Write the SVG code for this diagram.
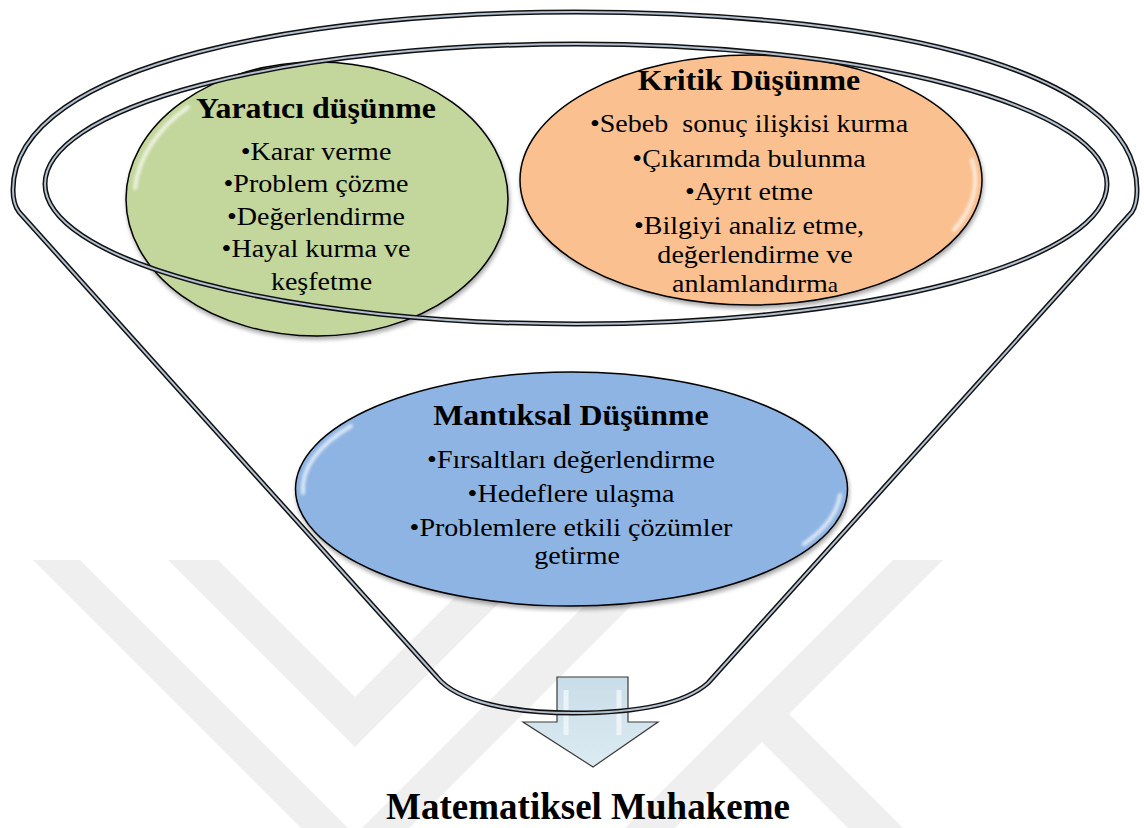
<svg xmlns="http://www.w3.org/2000/svg" width="1144" height="828" viewBox="0 0 1144 828">
  <style>
    .wm { fill: #efefef; }
    .title { font-family: "Liberation Serif", "Times New Roman", serif; font-weight: bold; font-size: 29px; fill: #000; text-anchor: middle; }
    .item { font-family: "Liberation Serif", "Times New Roman", serif; font-size: 25.5px; fill: #000; text-anchor: middle; }
    .big { font-family: "Liberation Serif", "Times New Roman", serif; font-weight: bold; font-size: 37px; fill: #000; text-anchor: middle; }
    .ell { stroke: #000; stroke-width: 1.5; filter: url(#shadow); }
    .gloss { fill: none; stroke: #ffffff; stroke-width: 4; stroke-linecap: round; opacity: 0.7; filter: url(#soft); }
    .lineOut { fill: none; stroke: #111; stroke-width: 5; stroke-linejoin: round; }
    .lineIn { fill: none; stroke: #b3c0d0; stroke-width: 2; stroke-linejoin: round; }
  </style>
  <defs>
    <filter id="shadow" x="-10%" y="-10%" width="120%" height="130%">
      <feGaussianBlur in="SourceAlpha" stdDeviation="2"/>
      <feOffset dx="1" dy="3" result="b"/>
      <feComponentTransfer><feFuncA type="linear" slope="0.35"/></feComponentTransfer>
      <feMerge><feMergeNode/><feMergeNode in="SourceGraphic"/></feMerge>
    </filter>
    <filter id="soft" x="-20%" y="-20%" width="140%" height="140%">
      <feGaussianBlur stdDeviation="1.6"/>
    </filter>
    <linearGradient id="arrowFill" x1="0" y1="0" x2="0" y2="1">
      <stop offset="0" stop-color="#c9dde8"/>
      <stop offset="1" stop-color="#dcebf2"/>
    </linearGradient>
  </defs>

  <rect width="1144" height="828" fill="#ffffff"/>

  <g id="watermark">
    <polygon class="wm" points="168,560 218,560 355,697 492,560 542,560 355,747"/>
    <polygon class="wm" points="33,560 80,560 355,835 630,560 677,560 355,882"/>
    <polygon class="wm" points="893,560 943,560 789,714 903,828 848,828 762,742 675,828 625,828"/>
  </g>

  <g id="node-arrow">
    <path d="M557,677 H628 V722 H658 L593,767 L523,722 H557 Z" fill="url(#arrowFill)" stroke="#3a3a3a" stroke-width="1.2"/>
    <path d="M566,690 V735" stroke="#f2f8fb" stroke-width="5" opacity="0.8"/>
    <path d="M619,690 V735" stroke="#f2f8fb" stroke-width="5" opacity="0.8"/>
  </g>

  <g id="node-yaratici">
    <ellipse class="ell" cx="317" cy="199" rx="191" ry="137" fill="#c3d69b"/>
    <path class="gloss" d="M188,107 A183,130 0 0 0 135,188"/>
    <g transform="translate(316,0) scale(1.1,1)">
      <text class="title" x="0" y="118">Yaratıcı düşünme</text>
      <text class="item" x="0" y="160">•Karar verme</text>
      <text class="item" x="0" y="192.5">•Problem çözme</text>
      <text class="item" x="0" y="225">•Değerlendirme</text>
      <text class="item" x="0" y="257.5">•Hayal kurma ve</text>
      <text class="item" x="5" y="290">keşfetme</text>
    </g>
  </g>

  <g id="node-kritik">
    <ellipse class="ell" cx="751" cy="180" rx="231" ry="125" fill="#fac090"/>
    <path class="gloss" d="M972,160 A224,118 0 0 1 954,230"/>
    <g transform="translate(749,0) scale(1.1,1)">
      <text class="title" x="0" y="90">Kritik Düşünme</text>
      <text class="item" x="0" y="132.5" xml:space="preserve">•Sebeb  sonuç ilişkisi kurma</text>
      <text class="item" x="0" y="167">•Çıkarımda bulunma</text>
      <text class="item" x="0" y="200.5">•Ayrıt etme</text>
      <text class="item" x="0" y="234">•Bilgiyi analiz etme,</text>
      <text class="item" x="5.5" y="263">değerlendirme ve</text>
      <text class="item" x="5.5" y="292">anlamlandırm<tspan font-size="21px">a</tspan></text>
    </g>
  </g>

  <g id="node-mantiksal">
    <ellipse class="ell" cx="571.5" cy="489" rx="276" ry="117" fill="#8eb4e3"/>
    <path class="gloss" d="M351,426 A269,110 0 0 0 303,493"/>
    <path class="gloss" d="M840,495 A269,110 0 0 1 804,544"/>
    <g transform="translate(571,0) scale(1.1,1)">
      <text class="title" x="0" y="425">Mantıksal Düşünme</text>
      <text class="item" x="0" y="468">•Fırsaltları değerlendirme</text>
      <text class="item" x="0" y="502">•Hedeflere ulaşma</text>
      <text class="item" x="0" y="536">•Problemlere etkili çözümler</text>
      <text class="item" x="5.5" y="564">getirme</text>
    </g>
  </g>

  <g id="connectors">
    <ellipse class="lineOut" cx="576" cy="184" rx="531" ry="140"/>
    <ellipse class="lineIn" cx="576" cy="184" rx="531" ry="140"/>
    <path id="funnel-out" class="lineOut" d="M437,677 L19,212 Q13,204 13,190 C13,60 320,12 575,12 C850,12 1137,60 1137,190 Q1137,204 1132,212 L708,683 C680,708 620,713 573,713 C515,713 458,703 437,677 Z"/>
    <path class="lineIn" d="M437,677 L19,212 Q13,204 13,190 C13,60 320,12 575,12 C850,12 1137,60 1137,190 Q1137,204 1132,212 L708,683 C680,708 620,713 573,713 C515,713 458,703 437,677 Z"/>
  </g>

  <g id="node-result">
    <text class="big" x="588" y="819">Matematiksel Muhakeme</text>
  </g>
</svg>
